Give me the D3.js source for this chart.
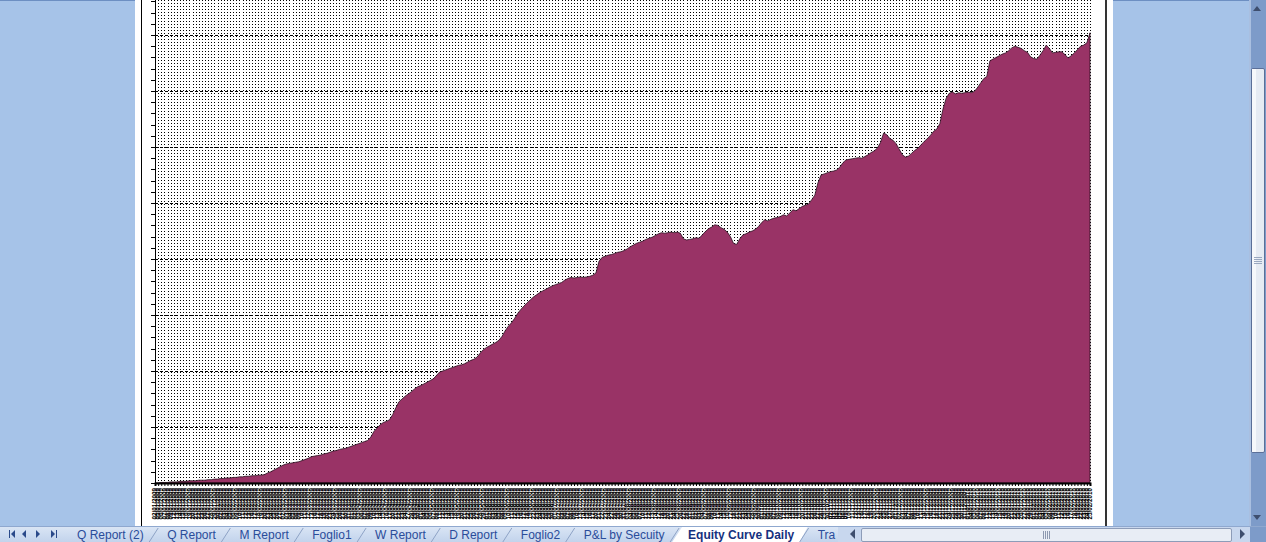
<!DOCTYPE html>
<html>
<head>
<meta charset="utf-8">
<script src="https://cdn.jsdelivr.net/npm/d3@7"></script>
<style>
html, body { margin: 0; padding: 0; overflow: hidden; background: #a6c3e8; }
svg { display: block; font-family: "Liberation Sans", Arial, sans-serif; }
</style>
</head>
<body>
<svg id="screen" width="1266" height="542"></svg>
<script>
// equity, in thousands, one point per trading day
const equity = [
  0.0,0.0,0.1,0.1,0.1,0.2,0.2,0.2,0.3,0.3,
  0.3,0.4,0.4,0.4,0.5,0.5,0.5,0.6,0.6,0.7,
  0.7,0.8,0.8,0.9,0.9,1.0,1.0,1.1,1.1,1.2,
  1.2,1.3,1.3,1.4,1.4,1.5,1.8,2.0,2.3,2.6,
  2.9,3.2,3.4,3.5,3.6,3.7,3.8,4.0,4.2,4.4,
  4.7,4.8,4.9,5.0,5.2,5.3,5.5,5.7,5.8,6.0,
  6.1,6.2,6.4,6.6,6.8,7.0,7.2,7.4,7.6,8.2,
  9.2,9.8,10.4,10.8,11.0,11.3,12.2,13.4,14.5,15.0,
  15.5,15.9,16.3,16.8,17.2,17.4,17.7,18.0,18.3,18.6,
  19.2,19.8,20.0,20.2,20.4,20.6,20.8,21.0,21.1,21.3,
  21.6,21.9,22.1,22.5,23.2,23.8,24.2,24.5,24.8,25.1,
  25.5,26.2,27.2,28.0,28.6,29.4,30.3,31.0,31.6,32.2,
  32.7,33.2,33.6,34.0,34.3,34.6,34.9,35.2,35.4,35.6,
  35.8,36.2,36.5,36.7,36.6,36.7,36.8,36.7,36.8,36.9,
  37.1,37.5,39.6,40.3,40.5,40.7,40.8,41.0,41.2,41.3,
  41.5,41.8,42.2,42.5,42.8,43.0,43.2,43.5,43.7,43.9,
  44.2,44.5,44.7,44.6,44.7,44.8,44.7,44.8,44.6,43.6,
  43.4,43.5,43.6,43.8,43.7,44.3,44.9,45.4,45.7,46.1,
  46.0,45.6,45.3,44.8,44.0,42.8,42.6,43.6,44.3,44.5,
  44.8,45.0,45.3,45.8,46.5,47.0,46.8,47.1,47.3,47.4,
  47.6,47.9,47.7,48.2,48.8,48.6,49.0,49.4,49.6,49.8,
  50.6,51.4,53.6,55.0,55.2,55.4,55.6,55.7,55.9,56.4,
  57.2,57.7,57.8,57.9,58.0,58.1,58.0,58.3,58.6,59.0,
  59.3,59.8,60.8,62.5,62.2,61.5,61.2,60.6,59.6,58.6,
  58.2,58.4,58.9,59.4,59.8,60.4,61.0,61.5,62.1,62.8,
  63.2,64.2,66.8,68.7,69.6,69.8,69.5,69.7,69.6,69.7,
  69.8,69.7,69.9,70.6,71.4,72.2,72.6,75.4,75.7,76.0,
  76.3,76.6,76.8,77.2,77.7,78.0,77.8,77.6,77.2,76.9,
  76.1,75.8,75.7,76.4,77.2,78.2,77.6,76.8,76.9,77.0,
  77.0,76.5,75.9,76.3,76.8,77.4,78.0,78.2,78.6,80.4
];

const firstDay = new Date(2009, 0, 2);
const yMax = 90;
const yMinorStep = 2;
const yMajorStep = 10;

const sheetTabs = ["Q Report (2)", "Q Report", "M Report", "Foglio1", "W Report",
                   "D Report", "Foglio2", "P&L by Secuity", "Equity Curve Daily", "Tra"];
const activeTab = "Equity Curve Daily";

// trading days (weekdays) starting at firstDay, one per value
const days = d3.timeDay.range(firstDay, d3.timeDay.offset(firstDay, 600))
    .filter(d => d.getDay() % 6 !== 0)
    .slice(0, equity.length);
const fmt = d3.timeFormat("%d/%m/%Y");
const dates = days.map(fmt);

const svg = d3.select("#screen");

// excel window chrome
svg.append("rect").attr("width", 1266).attr("height", 542).attr("fill", "#a6c3e8");
svg.append("rect").attr("x", 0).attr("y", 0).attr("width", 1250).attr("height", 1).attr("fill", "#6d8fc2");

// white sheet / chart area
svg.append("rect").attr("x", 135).attr("y", 0).attr("width", 978).attr("height", 526).attr("fill", "#fff");
svg.append("line").attr("x1", 141.5).attr("x2", 141.5).attr("y1", 0).attr("y2", 526)
    .attr("stroke", "#000").attr("stroke-width", 1);
svg.append("line").attr("x1", 1106).attr("x2", 1106).attr("y1", 0).attr("y2", 526)
    .attr("stroke", "#000").attr("stroke-width", 1.6);

const plot = { left: 155, right: 1090, top: -21, bottom: 483 };

const x = d3.scalePoint()
    .domain(dates)
    .range([plot.left, plot.right]);

const y = d3.scaleLinear()
    .domain([0, yMax])
    .range([plot.bottom, plot.top]);

const g = svg.append("g");

// vertical dotted gridlines (one per day)
g.append("g")
    .selectAll("line")
    .data(dates)
    .join("line")
    .attr("x1", d => Math.round(x(d)) + 0.5)
    .attr("x2", d => Math.round(x(d)) + 0.5)
    .attr("y1", plot.top)
    .attr("y2", plot.bottom)
    .attr("stroke", "#000")
    .attr("stroke-width", 1)
    .attr("stroke-dasharray", "1,2")
    .attr("shape-rendering", "crispEdges");

// horizontal major gridlines
g.append("g")
    .selectAll("line")
    .data(d3.range(yMajorStep, yMax + 1, yMajorStep))
    .join("line")
    .attr("x1", plot.left)
    .attr("x2", plot.right)
    .attr("y1", d => Math.round(y(d)) + 0.5)
    .attr("y2", d => Math.round(y(d)) + 0.5)
    .attr("stroke", "#000")
    .attr("stroke-dasharray", "3,2")
    .attr("shape-rendering", "crispEdges");

// equity area
const area = d3.area()
    .x((d, i) => x(dates[i]))
    .y0(y(0))
    .y1(d => y(d));

g.append("path")
    .datum(equity)
    .attr("fill", "#993366")
    .attr("stroke", "#2a1020")
    .attr("stroke-width", 0.8)
    .attr("d", area);

// y axis: ticks only, no labels
const yAxis = d3.axisLeft(y)
    .tickValues(d3.range(0, yMax + 1, yMinorStep))
    .tickSize(4)
    .tickFormat("");
g.append("g")
    .attr("transform", `translate(${plot.left},0)`)
    .call(yAxis)
    .call(s => s.selectAll("line,path").attr("stroke", "#000").attr("shape-rendering", "crispEdges"));

// x axis
const xAxis = d3.axisBottom(x).tickSize(3).tickFormat("");
g.append("g")
    .attr("transform", `translate(0,${plot.bottom})`)
    .call(xAxis)
    .call(s => s.select("path").attr("stroke", "#000").attr("stroke-width", 2))
    .call(s => s.selectAll("line").attr("stroke", "#000"));

// rotated date labels
g.append("g")
    .selectAll("text")
    .data(dates)
    .join("text")
    .attr("transform", d => `translate(${x(d) + 2.2},488) rotate(-90)`)
    .attr("text-anchor", "end")
    .attr("font-size", 6.3)
    .attr("font-weight", "bold")
    .attr("fill", "#000")
    .text(d => d);

// vertical scrollbar
const vs = svg.append("g");
vs.append("rect").attr("x", 1249).attr("y", 0).attr("width", 17).attr("height", 527).attr("fill", "#7d9bc9");
vs.append("rect").attr("x", 1249).attr("y", 0).attr("width", 2).attr("height", 527).attr("fill", "#a9bfe0");
vs.append("path").attr("d", "M1253,11 L1261,11 L1257,6 Z").attr("fill", "#3e4e6e");
vs.append("path").attr("d", "M1253,515 L1261,515 L1257,520 Z").attr("fill", "#3e4e6e");
vs.append("rect").attr("x", 1251.5).attr("y", 68.5).attr("width", 13).attr("height", 384)
    .attr("rx", 1.5).attr("fill", "#e6ebf3").attr("stroke", "#5b6f98");
vs.append("rect").attr("x", 1252).attr("y", 69).attr("width", 4).attr("height", 383).attr("fill", "#f6f8fb");
vs.append("g").selectAll("line").data([-3, -1, 1, 3]).join("line")
    .attr("x1", 1254).attr("x2", 1262)
    .attr("y1", d => 260 + d + 0.5).attr("y2", d => 260 + d + 0.5)
    .attr("stroke", "#9aa8c0");

// bottom tab strip
const tb = svg.append("g");
const grad = svg.append("defs").append("linearGradient").attr("id", "tabbar").attr("x1", 0).attr("x2", 0).attr("y1", 0).attr("y2", 1);
grad.append("stop").attr("offset", 0).attr("stop-color", "#dbe6f5");
grad.append("stop").attr("offset", 1).attr("stop-color", "#c2d3ec");
tb.append("rect").attr("x", 0).attr("y", 526).attr("width", 1266).attr("height", 16).attr("fill", "url(#tabbar)");
tb.append("rect").attr("x", 0).attr("y", 526).attr("width", 1266).attr("height", 1).attr("fill", "#8fa8cf");

// navigation buttons
const nav = tb.append("g").attr("fill", "#2b4a8a");
nav.append("rect").attr("x", 9).attr("y", 530).attr("width", 1).attr("height", 8);
nav.append("path").attr("d", "M11,534 L15,530 L15,538 Z");
nav.append("path").attr("d", "M22,534 L26,530 L26,538 Z");
nav.append("path").attr("d", "M36,530 L40,534 L36,538 Z");
nav.append("path").attr("d", "M51,530 L55,534 L51,538 Z");
nav.append("rect").attr("x", 56).attr("y", 530).attr("width", 1).attr("height", 8);

// tabs
let cx = 65;
sheetTabs.forEach(name => {
    const active = name === activeTab;
    const t = tb.append("text")
        .attr("x", cx + 12)
        .attr("y", 539)
        .attr("font-size", 12)
        .attr("font-weight", active ? "bold" : "normal")
        .attr("fill", active ? "#15317e" : "#2a4c9a")
        .text(name);
    const w = t.node().getComputedTextLength();
    const right = cx + 12 + w + 11.5;
    if (active) {
        tb.insert("path", "text")
            .attr("d", `M${cx - 4},542 L${cx + 6},527 L${right + 2},527 L${right - 6},542 Z`)
            .attr("fill", "#ffffff");
    }
    tb.append("line")
        .attr("x1", right - 6).attr("y1", 542)
        .attr("x2", right + 3).attr("y2", 528)
        .attr("stroke", "#8ea3c6");
    cx = right;
});

// horizontal scrollbar (covers the cut tab)
const hs = svg.append("g");
hs.append("rect").attr("x", 838).attr("y", 527).attr("width", 412).attr("height", 15).attr("fill", "#c8d7ee");
hs.append("path").attr("d", "M850,534 L855,529 L855,539 Z").attr("fill", "#3e4e6e");
hs.append("rect").attr("x", 861.5).attr("y", 528.5).attr("width", 370).attr("height", 13)
    .attr("rx", 1.5).attr("fill", "#e8edf5").attr("stroke", "#8d9cb8");
hs.append("g").selectAll("line").data([-3, -1, 1, 3]).join("line")
    .attr("x1", d => 1046 + d + 0.5).attr("x2", d => 1046 + d + 0.5)
    .attr("y1", 531).attr("y2", 539)
    .attr("stroke", "#8d99b0");
hs.append("path").attr("d", "M1240,529 L1245,534 L1240,539 Z").attr("fill", "#3e4e6e");
hs.append("rect").attr("x", 1250).attr("y", 527).attr("width", 16).attr("height", 15).attr("fill", "#7d9bc9");
</script>
</body>
</html>
